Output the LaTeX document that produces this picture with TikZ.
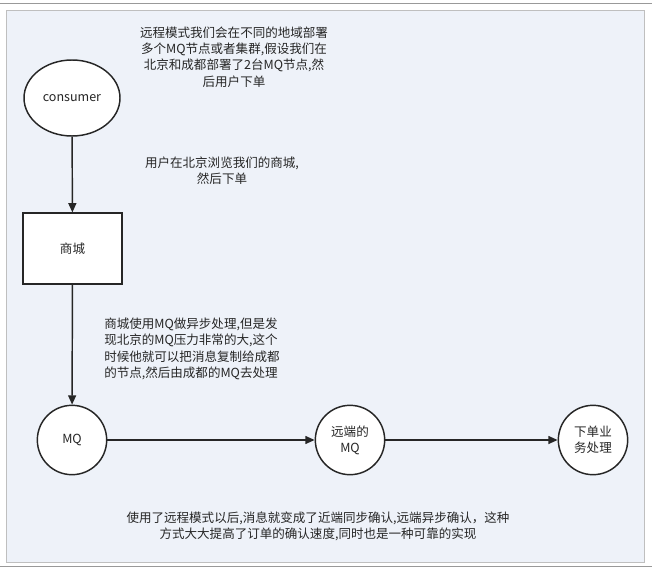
\documentclass[tikz,border=0pt]{standalone}
\usepackage{fontspec}
\setmainfont{Noto Sans CJK SC}
\usetikzlibrary{arrows.meta,shapes.geometric}
\begin{document}
\begin{tikzpicture}[x=0.75pt,y=-0.75pt,
  every node/.style={font=\fontsize{9.4}{12.2}\selectfont, text=black!85},
  shp/.style={draw=black!85, line width=1.1pt, fill=white},
  arr/.style={draw=black!85, line width=1.1pt, -{Triangle[length=7pt,width=6pt]}},
  txt/.style={align=center, inner sep=0pt}]
\useasboundingbox (0,0) rectangle (652,574);
\fill[white] (0,0) rectangle (652,574);
\draw[black!40] (0,3) -- (652,3);
\draw[black!40] (0,566) -- (652,566);
\draw[black!25, fill={rgb,255:red,238;green,242;blue,249}] (6,10) rectangle (644,562);
\node[shp, ellipse, minimum width=72pt, minimum height=57pt] (c) at (72,98) {consumer};
\node[shp, rectangle, minimum width=74pt, minimum height=53pt] (s) at (72.5,248.5) {商城};
\node[shp, circle, minimum size=52pt] (m) at (72,440) {MQ};
\node[shp, circle, minimum size=52pt, align=center, inner sep=1pt] (r) at (350,440) {远端的\\MQ};
\node[shp, circle, minimum size=52pt, align=center, inner sep=1pt] (b) at (593,440) {下单业\\务处理};
\draw[arr] (c) -- (s);
\draw[arr] (s) -- (m);
\draw[arr] (m) -- (r);
\draw[arr] (r) -- (b);
\node[txt] (t1) at (234,57) {远程模式我们会在不同的地域部署\\多个MQ节点或者集群,假设我们在\\北京和成都部署了2台MQ节点,然\\后用户下单};
\node[txt] (t2) at (222,171) {用户在北京浏览我们的商城,\\然后下单};
\node[txt, align=left, anchor=west] (t3) at (104,349) {商城使用MQ做异步处理,但是发\\现北京的MQ压力非常的大,这个\\时候他就可以把消息复制给成都\\的节点,然后由成都的MQ去处理};
\node[txt] (t4) at (318,526) {使用了远程模式以后,消息就变成了近端同步确认,远端异步确认，这种\\方式大大提高了订单的确认速度,同时也是一种可靠的实现};
\end{tikzpicture}
\end{document}
